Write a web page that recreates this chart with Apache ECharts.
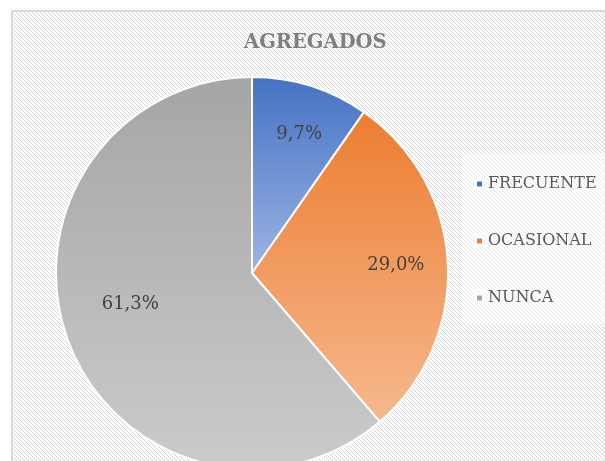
<!DOCTYPE html>
<html>
<head>
<meta charset="utf-8">
<script src="https://cdn.jsdelivr.net/npm/echarts@6/dist/echarts.min.js"></script>
<style>
  html, body { margin: 0; padding: 0; background: #fff; }
  #chart { width: 605px; height: 461px; }
</style>
</head>
<body>
<div id="chart"></div>
<script>
// datos del gráfico
const categories = ["FRECUENTE", "OCASIONAL", "NUNCA"];
const counts = [3, 9, 19];
const titleText = "AGREGADOS";

// colores (arriba -> abajo del degradado)
const topColors = ["#4472c4", "#ed7d31", "#a5a5a5"];
const bottomColors = ["#9db5e3", "#f5b98e", "#cbcbcb"];
const labelOffsets = [[17, -42], [43, -3], [-27, -4]];

// trama diagonal del fondo
function makeHatch() {
  const c = document.createElement("canvas");
  c.width = 4;
  c.height = 4;
  const ctx = c.getContext("2d");
  ctx.fillStyle = "#ffffff";
  ctx.fillRect(0, 0, 4, 4);
  ctx.fillStyle = "#d6d6d6";
  for (let i = 0; i < 4; i++) {
    ctx.fillRect(i, i, 1, 1);
  }
  return c;
}

const total = counts.reduce((a, b) => a + b, 0);
const font = "DejaVu Serif";

const chart = echarts.init(document.getElementById("chart"));
chart.setOption({
  animation: false,
  backgroundColor: "#ffffff",
  graphic: [
    {
      type: "rect",
      z: -10,
      shape: { x: 12, y: 11, width: 620, height: 480 },
      style: {
        fill: { image: makeHatch(), repeat: "repeat" },
        stroke: "#d9d9d9",
        lineWidth: 2,
      },
    },
    {
      type: "rect",
      z: -9,
      shape: { x: 462, y: 154, width: 160, height: 170 },
      style: { fill: "rgba(255,255,255,0.55)" },
    },
  ],
  title: {
    text: titleText,
    left: 239,
    top: 28,
    textStyle: {
      fontFamily: font,
      fontWeight: "bold",
      fontSize: 19.5,
      color: "#7f7f7f",
    },
  },
  legend: {
    orient: "vertical",
    left: 470,
    top: 169,
    itemWidth: 7,
    itemHeight: 7,
    itemGap: 37,
    icon: "rect",
    data: categories.map((c, i) => ({
      name: c,
      itemStyle: { color: topColors[i] },
    })),
    textStyle: {
      fontFamily: font,
      fontSize: 16,
      lineHeight: 20,
      color: "#595959",
    },
  },
  series: [
    {
      type: "pie",
      center: [252, 273],
      radius: [0, 196],
      startAngle: 90,
      clockwise: true,
      avoidLabelOverlap: false,
      itemStyle: { borderColor: "#ffffff", borderWidth: 2 },
      label: {
        position: "inside",
        fontFamily: font,
        fontSize: 18,
        color: "#404040",
        formatter: (p) =>
          ((p.value / total) * 100).toFixed(1).replace(".", ",") + "%",
      },
      labelLine: { show: false },
      emphasis: { disabled: true },
      data: categories.map((c, i) => ({
        name: c,
        value: counts[i],
        label: { offset: labelOffsets[i] },
        itemStyle: {
          color: new echarts.graphic.LinearGradient(0, 0, 0, 1, [
            { offset: 0, color: topColors[i] },
            { offset: 1, color: bottomColors[i] },
          ]),
        },
      })),
    },
  ],
});
</script>
</body>
</html>
